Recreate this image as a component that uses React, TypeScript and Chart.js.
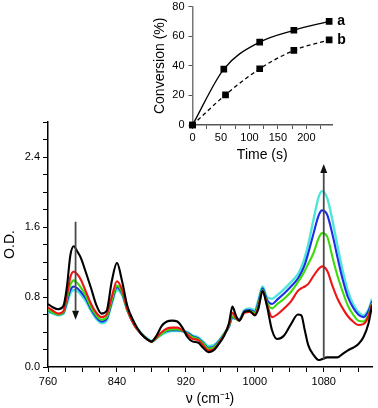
import { useEffect, useRef } from 'react';
import { Chart, registerables } from 'chart.js';

Chart.register(...registerables);

const FONT = "'Liberation Sans', Arial, Helvetica, sans-serif";

// ---- Main spectrum data ----
const wavenumbers = [
  760, 766, 772, 778, 782, 786, 790, 794, 798, 804, 810, 816, 822, 828, 834, 840, 846, 852,
  860, 868, 876, 880, 886, 892, 898, 904, 910, 916, 922, 928, 934, 940, 946, 952, 958, 964,
  970, 974, 978, 982, 988, 994, 1000, 1004, 1009, 1014, 1020, 1026, 1034, 1042, 1050,
  1054, 1058, 1062, 1068, 1074, 1078, 1084, 1090, 1096, 1102, 1108, 1114, 1120, 1126, 1132, 1136,
];

const odBlack = [
  0.72, 0.68, 0.66, 0.70, 0.92, 1.28, 1.38, 1.32, 1.25, 1.08, 0.90, 0.71, 0.61, 0.64, 0.98, 1.19, 0.98, 0.70,
  0.51, 0.38, 0.31, 0.29, 0.36, 0.47, 0.52, 0.53, 0.52, 0.45, 0.34, 0.29, 0.28, 0.22, 0.17, 0.19, 0.26, 0.35,
  0.50, 0.69, 0.59, 0.53, 0.63, 0.64, 0.59, 0.66, 0.87, 0.70, 0.42, 0.32, 0.36, 0.49, 0.60,
  0.59, 0.42, 0.25, 0.14, 0.08, 0.09, 0.11, 0.11, 0.11, 0.15, 0.19, 0.22, 0.26, 0.34, 0.50, 0.70,
];

const odRed = [
  0.68, 0.64, 0.61, 0.64, 0.82, 1.03, 1.09, 1.06, 1.00, 0.86, 0.72, 0.62, 0.57, 0.60, 0.80, 0.98, 0.88, 0.66,
  0.48, 0.38, 0.31, 0.29, 0.34, 0.40, 0.44, 0.45, 0.45, 0.42, 0.37, 0.32, 0.31, 0.25, 0.19, 0.20, 0.27, 0.36,
  0.48, 0.62, 0.56, 0.53, 0.62, 0.63, 0.60, 0.68, 0.86, 0.72, 0.57, 0.60, 0.67, 0.75, 0.87,
  0.90, 0.92, 0.95, 1.04, 1.12, 1.15, 1.10, 0.93, 0.78, 0.67, 0.58, 0.52, 0.48, 0.49, 0.58, 0.72,
];

const odGreen = [
  0.65, 0.62, 0.60, 0.63, 0.78, 0.94, 0.99, 0.96, 0.91, 0.81, 0.68, 0.59, 0.54, 0.57, 0.76, 0.93, 0.85, 0.65,
  0.48, 0.38, 0.31, 0.29, 0.33, 0.38, 0.42, 0.43, 0.43, 0.41, 0.38, 0.34, 0.32, 0.27, 0.21, 0.22, 0.28, 0.37,
  0.47, 0.58, 0.55, 0.53, 0.63, 0.64, 0.62, 0.71, 0.88, 0.74, 0.67, 0.72, 0.78, 0.86, 0.97,
  1.03, 1.10, 1.18, 1.30, 1.47, 1.53, 1.49, 1.26, 1.04, 0.86, 0.70, 0.60, 0.53, 0.52, 0.60, 0.73,
];

const odBlue = [
  0.64, 0.62, 0.60, 0.62, 0.75, 0.88, 0.92, 0.90, 0.86, 0.78, 0.66, 0.57, 0.52, 0.55, 0.74, 0.91, 0.84, 0.65,
  0.48, 0.38, 0.31, 0.29, 0.33, 0.38, 0.41, 0.42, 0.42, 0.41, 0.39, 0.35, 0.33, 0.28, 0.22, 0.23, 0.29, 0.37,
  0.46, 0.57, 0.55, 0.54, 0.64, 0.65, 0.63, 0.73, 0.90, 0.77, 0.72, 0.77, 0.84, 0.92, 1.01,
  1.08, 1.17, 1.30, 1.52, 1.73, 1.79, 1.74, 1.52, 1.25, 1.00, 0.80, 0.68, 0.60, 0.57, 0.64, 0.75,
];

const odCyan = [
  0.63, 0.61, 0.59, 0.61, 0.72, 0.84, 0.88, 0.87, 0.83, 0.75, 0.64, 0.55, 0.50, 0.53, 0.72, 0.88, 0.82, 0.65,
  0.49, 0.39, 0.32, 0.30, 0.33, 0.37, 0.40, 0.41, 0.41, 0.41, 0.40, 0.36, 0.34, 0.29, 0.24, 0.25, 0.30, 0.38,
  0.46, 0.56, 0.55, 0.55, 0.65, 0.67, 0.65, 0.76, 0.92, 0.80, 0.78, 0.82, 0.89, 0.97, 1.06,
  1.14, 1.25, 1.40, 1.68, 1.94, 2.01, 1.93, 1.68, 1.38, 1.10, 0.87, 0.72, 0.63, 0.59, 0.66, 0.78,
];

const seriesColors = ['#000000', '#f01414', '#3cdc0a', '#1c2ee6', '#4ee6da'];

// arrows (wavenumber, OD from, OD to)
const arrowDown = { x: 792, from: 1.66, to: 0.54 };
const arrowUp = { x: 1080, from: 0.08, to: 2.32 };

// ---- Inset kinetics data ----
const timeA = [0, 55, 118, 178, 240];
const convA = [0, 37.8, 56, 64, 70];
const timeB = [0, 58, 118, 178, 240];
const convB = [0, 20.4, 38, 50.4, 57.5];
const insetLabels = ['a', 'b'];

const toXY = (xs: number[], ys: number[]) => xs.map((x, i) => ({ x, y: ys[i] }));

const arrowPlugin = {
  id: 'arrows',
  afterDatasetsDraw(chart: any) {
    const { ctx, scales } = chart;
    const xs = scales.x;
    const ys = scales.y;
    const draw = (a: { x: number; from: number; to: number }) => {
      const px = xs.getPixelForValue(a.x);
      const y0 = ys.getPixelForValue(a.from);
      const y1 = ys.getPixelForValue(a.to);
      const dir = y1 > y0 ? 1 : -1;
      const head = 9;
      ctx.save();
      ctx.strokeStyle = '#4a4a4a';
      ctx.lineWidth = 1.8;
      ctx.beginPath();
      ctx.moveTo(px, y0);
      ctx.lineTo(px, y1 - dir * head);
      ctx.stroke();
      ctx.fillStyle = '#111';
      ctx.beginPath();
      ctx.moveTo(px, y1);
      ctx.lineTo(px - 3.5, y1 - dir * head);
      ctx.lineTo(px + 3.5, y1 - dir * head);
      ctx.closePath();
      ctx.fill();
      ctx.restore();
    };
    draw(arrowDown);
    draw(arrowUp);
  },
};

const labelPlugin = {
  id: 'endLabels',
  afterDatasetsDraw(chart: any) {
    const { ctx } = chart;
    ctx.save();
    ctx.fillStyle = '#000';
    ctx.font = `bold 14px ${FONT}`;
    ctx.textAlign = 'left';
    ctx.textBaseline = 'middle';
    chart.data.datasets.forEach((_: any, i: number) => {
      const meta = chart.getDatasetMeta(i);
      const pt = meta.data[meta.data.length - 1];
      ctx.fillText(insetLabels[i], pt.x + 8, pt.y);
    });
    ctx.restore();
  },
};

const isMult = (v: number, step: number, base = 0) => {
  const r = (v - base) / step;
  return Math.abs(r - Math.round(r)) < 1e-6;
};

export default function App() {
  const mainRef = useRef<HTMLCanvasElement>(null);
  const insetRef = useRef<HTMLCanvasElement>(null);

  useEffect(() => {
    const series = [odBlack, odRed, odGreen, odBlue, odCyan];
    const main = new Chart(mainRef.current!, {
      type: 'line',
      data: {
        datasets: series.map((s, i) => ({
          data: toXY(wavenumbers, s),
          borderColor: seriesColors[i],
          borderWidth: i === 4 ? 2.4 : 2.1,
          pointRadius: 0,
          fill: false,
          cubicInterpolationMode: 'monotone' as const,
        })),
      },
      options: {
        animation: false,
        responsive: false,
        maintainAspectRatio: false,
        events: [],
        layout: { padding: { top: 122, right: 6, left: 0, bottom: 0 } },
        plugins: { legend: { display: false }, tooltip: { enabled: false } },
        scales: {
          x: {
            type: 'linear',
            min: 760,
            max: 1136,
            afterFit: (s: any) => { s.height = 41; },
            ticks: {
              stepSize: 20,
              autoSkip: false,
              includeBounds: false,
              maxRotation: 0,
              padding: 3,
              color: '#000',
              font: { family: FONT, size: 11 },
              callback: (v: any) => (isMult(Number(v), 80, 760) ? String(v) : ''),
            },
            grid: { drawOnChartArea: false, drawTicks: true, tickLength: 5, color: '#000' },
            border: { display: true, color: '#000', width: 1.5 },
            title: {
              display: true,
              text: 'ν (cm⁻¹)',
              color: '#000',
              font: { family: FONT, size: 14 },
              padding: { top: 0, bottom: 0 },
            },
          },
          y: {
            type: 'linear',
            min: 0,
            max: 2.8,
            afterFit: (s: any) => { s.width = 48; },
            ticks: {
              stepSize: 0.2,
              autoSkip: false,
              includeBounds: false,
              padding: 3,
              color: '#000',
              font: { family: FONT, size: 11 },
              callback: (v: any) => (isMult(Number(v), 0.8) ? Number(v).toFixed(1) : ''),
            },
            grid: { drawOnChartArea: false, drawTicks: true, tickLength: 5, color: '#000' },
            border: { display: true, color: '#000', width: 1.5 },
            title: {
              display: true,
              text: 'O.D.',
              color: '#000',
              font: { family: FONT, size: 14 },
              padding: { top: 2, bottom: 0 },
            },
          },
        },
      },
      plugins: [arrowPlugin],
    });

    const inset = new Chart(insetRef.current!, {
      type: 'line',
      data: {
        datasets: [
          {
            data: toXY(timeA, convA),
            borderColor: '#000',
            backgroundColor: '#000',
            borderWidth: 1.3,
            pointStyle: 'rect',
            pointRadius: 3.8,
            fill: false,
            clip: false as any,
            cubicInterpolationMode: 'monotone' as const,
          },
          {
            data: toXY(timeB, convB),
            borderColor: '#000',
            backgroundColor: '#000',
            borderWidth: 1.3,
            borderDash: [4, 3],
            pointStyle: 'rect',
            pointRadius: 3.8,
            fill: false,
            clip: false as any,
            cubicInterpolationMode: 'monotone' as const,
          },
        ],
      },
      options: {
        animation: false,
        responsive: false,
        maintainAspectRatio: false,
        events: [],
        layout: { padding: { top: 8, right: 46, left: 0, bottom: 0 } },
        plugins: { legend: { display: false }, tooltip: { enabled: false } },
        scales: {
          x: {
            type: 'linear',
            min: 0,
            max: 245,
            afterFit: (s: any) => { s.height = 43; },
            ticks: {
              stepSize: 25,
              autoSkip: false,
              includeBounds: false,
              maxRotation: 0,
              padding: 2,
              color: '#000',
              font: { family: FONT, size: 11 },
              callback: (v: any) => (isMult(Number(v), 50) ? String(v) : ''),
            },
            grid: { drawOnChartArea: false, drawTicks: true, tickLength: 4, color: '#555' },
            border: { display: true, color: '#555', width: 1.5 },
            title: {
              display: true,
              text: 'Time (s)',
              color: '#000',
              font: { family: FONT, size: 14 },
              padding: { top: 0, bottom: 4 },
            },
          },
          y: {
            type: 'linear',
            min: 0,
            max: 80,
            afterFit: (s: any) => { s.width = 42.5; },
            ticks: {
              stepSize: 20,
              autoSkip: false,
              padding: 4,
              color: '#000',
              font: { family: FONT, size: 11 },
            },
            grid: { drawOnChartArea: false, drawTicks: true, tickLength: 4, color: '#555' },
            border: { display: true, color: '#777', width: 1.5 },
            title: {
              display: true,
              text: 'Conversion (%)',
              color: '#000',
              font: { family: FONT, size: 14 },
              padding: { top: 2, bottom: 0 },
            },
          },
        },
      },
      plugins: [labelPlugin],
    });

    return () => {
      main.destroy();
      inset.destroy();
    };
  }, []);

  return (
    <div style={{ position: 'fixed', left: 0, top: 0, width: 378, height: 408, background: '#fff', overflow: 'hidden' }}>
      <canvas ref={mainRef} width={378} height={408} style={{ position: 'absolute', left: 0, top: 0, width: 378, height: 408 }} />
      <canvas ref={insetRef} width={228} height={172} style={{ position: 'absolute', left: 150, top: -4, width: 228, height: 172 }} />
    </div>
  );
}
